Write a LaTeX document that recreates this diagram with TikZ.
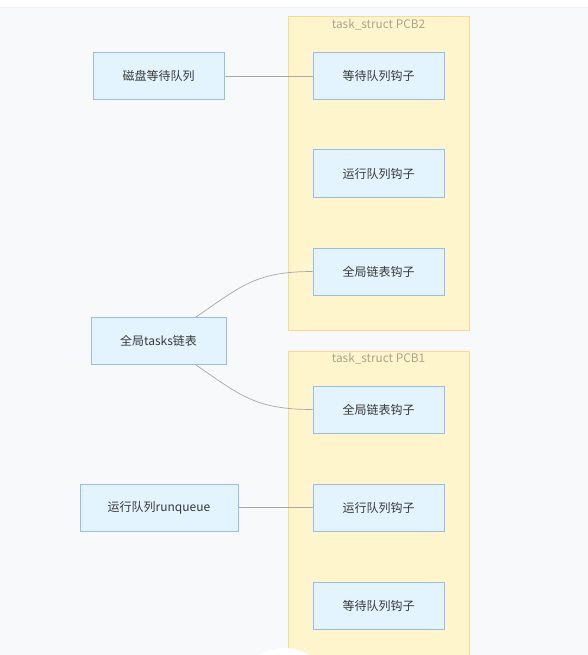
\documentclass[tikz,border=0pt]{standalone}
\usepackage{fontspec}
\setmainfont{Noto Sans CJK SC}
\usepackage{tikz}
\usetikzlibrary{calc}

\definecolor{bgc}{HTML}{F8F9FB}
\definecolor{hookfill}{HTML}{E4F4FF}
\definecolor{hookline}{HTML}{98BAF5}
\definecolor{pcbfill}{HTML}{FFF5CC}
\definecolor{pcbline}{HTML}{FCD98E}
\definecolor{pcbtext}{HTML}{ABA48C}
\definecolor{linkc}{HTML}{A8A8A8}

\tikzset{
    hook/.style={draw=hookline, fill=hookfill, line width=1pt, minimum width=131pt,
        minimum height=47pt, inner sep=0pt, font=\fontsize{12}{14}\selectfont, text=black!78},
    pcb/.style={draw=pcbline, fill=pcbfill, line width=1pt},
    link/.style={draw=linkc, line width=0.7pt}
}

\begin{document}
\begin{tikzpicture}[x=1pt,y=-1pt]
        \useasboundingbox (0,0) rectangle (588,655);
        \fill[bgc] (0,0) rectangle (588,655);
        \fill[white] (0,0) rectangle (588,7);
        \draw[black!6, line width=1pt] (0,7.5) -- (588,7.5);
        % the two task_struct boxes
        \draw[pcb] (288,17) rectangle (469,330);
        \node[text=pcbtext, font=\fontsize{11.8}{13}\selectfont] (pcbtwo) at (378.5,25) {task\_struct PCB2};
        \draw[pcb] (288,351) rectangle (469,670);
        \node[text=pcbtext, font=\fontsize{11.8}{13}\selectfont] (pcbone) at (378.5,359) {task\_struct PCB1};
        % hooks inside PCB2
        \node[hook] (waitb) at (378.5,76) {等待队列钩子};
        \node[hook] (runb) at (378.5,173.5) {运行队列钩子};
        \node[hook] (listb) at (378.5,271.5) {全局链表钩子};
        % hooks inside PCB1
        \node[hook] (lista) at (378.5,409.5) {全局链表钩子};
        \node[hook] (runa) at (378.5,507.5) {运行队列钩子};
        \node[hook] (waita) at (378.5,605.5) {等待队列钩子};
        % the queues outside
        \node[hook, minimum width=131pt] (disk) at (158.5,76) {磁盘等待队列};
        \node[hook, minimum width=135pt] (tasks) at (158.5,341) {全局tasks链表};
        \node[hook, minimum width=158pt] (rq) at (159,507.5) {运行队列runqueue};
        % links
        \draw[link] (disk.east) -- (waitb.west);
        \draw[link] ([xshift=37.5pt]tasks.north) .. controls (240,287) and (255,271.5) .. (listb.west);
        \draw[link] ([xshift=37.5pt]tasks.south) .. controls (240,395) and (255,409.5) .. (lista.west);
        \draw[link] (rq.east) -- (runa.west);
        \fill[white] (284,700) circle (52);
    \end{tikzpicture}
\end{document}
